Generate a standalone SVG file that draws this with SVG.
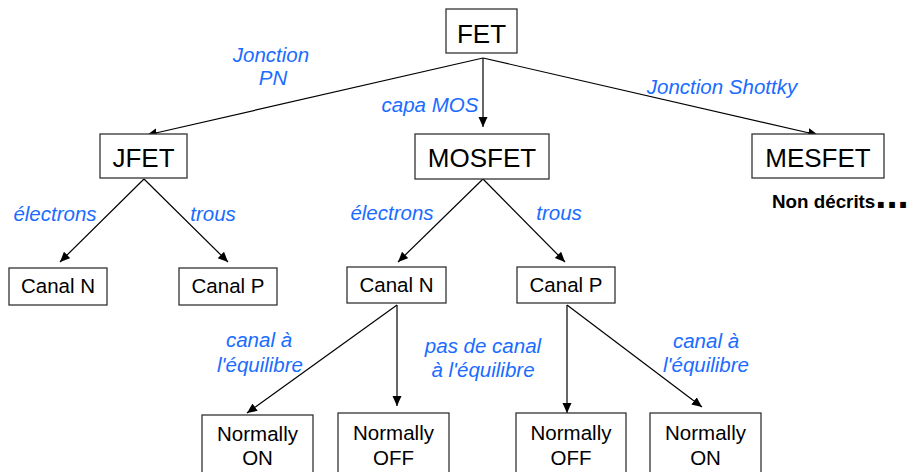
<svg xmlns="http://www.w3.org/2000/svg" width="915" height="472" viewBox="0 0 915 472">
<defs>
<marker id="arr" markerUnits="userSpaceOnUse" markerWidth="11" markerHeight="10" refX="10" refY="4.5" orient="auto">
<path d="M0,0 L10,4.5 L0,9 z" fill="#000"/>
</marker>
<style>
.box{fill:#fff;stroke:#333;stroke-width:1.3}
.t{font-family:"Liberation Sans",Arial,sans-serif;fill:#000;text-anchor:middle}
.big{font-size:26px}
.med{font-size:20.5px}
.lab{font-family:"Liberation Sans",Arial,sans-serif;font-style:italic;font-size:20.5px;fill:#1A6CFF;text-anchor:middle}
.c{stroke:#000;stroke-width:1.2;fill:none;marker-end:url(#arr)}
</style>
</defs>
<rect width="915" height="472" fill="#fff"/>
<g id="connectors">
<line class="c" x1="483" y1="58" x2="147" y2="135"/>
<line class="c" x1="483" y1="58" x2="483" y2="127"/>
<line class="c" x1="483" y1="58" x2="818" y2="135"/>
<line class="c" x1="144" y1="179" x2="60" y2="262"/>
<line class="c" x1="144" y1="179" x2="228" y2="262"/>
<line class="c" x1="483" y1="179" x2="398" y2="262"/>
<line class="c" x1="483" y1="179" x2="565" y2="262"/>
<line class="c" x1="397" y1="305" x2="247" y2="413"/>
<line class="c" x1="397" y1="305" x2="397" y2="406"/>
<line class="c" x1="567" y1="305" x2="567" y2="413"/>
<line class="c" x1="567" y1="305" x2="702" y2="407"/>
</g>
<g id="labels">
<text class="lab" x="271" y="62">Jonction</text>
<text class="lab" x="273" y="85">PN</text>
<text class="lab" x="430" y="112">capa MOS</text>
<text class="lab" x="722" y="94">Jonction Shottky</text>
<text class="lab" x="55" y="221">électrons</text>
<text class="lab" x="213" y="221">trous</text>
<text class="lab" x="392" y="220">électrons</text>
<text class="lab" x="559" y="220">trous</text>
<text class="lab" x="259" y="347">canal à</text>
<text class="lab" x="260" y="372">l'équilibre</text>
<text class="lab" x="483" y="353">pas de canal</text>
<text class="lab" x="483" y="377">à l'équilibre</text>
<text class="lab" x="706" y="348">canal à</text>
<text class="lab" x="706" y="372">l'équilibre</text>
</g>
<g id="fet"><rect class="box" x="446" y="9" width="71" height="44"/><text class="t big" x="481.5" y="43">FET</text></g>
<g id="jfet"><rect class="box" x="100" y="134" width="87" height="44"/><text class="t big" x="143.5" y="167">JFET</text></g>
<g id="mosfet"><rect class="box" x="415" y="134" width="134" height="45"/><text class="t big" x="482" y="167">MOSFET</text></g>
<g id="mesfet"><rect class="box" x="752" y="134" width="132" height="44"/><text class="t big" x="818" y="167">MESFET</text></g>
<g id="nondecrits"><text x="772" y="208" style="font-family:'Liberation Sans',Arial,sans-serif;font-weight:bold;font-size:18.8px;fill:#000">Non décrits<tspan style="font-size:40px">...</tspan></text></g>
<g id="jfet-canal-n"><rect class="box" x="9" y="268" width="98" height="37"/><text class="t med" x="58" y="293">Canal N</text></g>
<g id="jfet-canal-p"><rect class="box" x="179" y="268" width="98" height="37"/><text class="t med" x="228" y="293">Canal P</text></g>
<g id="mos-canal-n"><rect class="box" x="347" y="267" width="99" height="36"/><text class="t med" x="396.5" y="292">Canal N</text></g>
<g id="mos-canal-p"><rect class="box" x="517" y="267" width="98" height="36"/><text class="t med" x="566" y="292">Canal P</text></g>
<g id="n-on"><rect class="box" x="202" y="415" width="111" height="70"/><text class="t med" x="257.5" y="441">Normally</text><text class="t med" x="257.5" y="465">ON</text></g>
<g id="n-off"><rect class="box" x="338" y="413" width="111" height="70"/><text class="t med" x="393.5" y="440">Normally</text><text class="t med" x="393.5" y="465">OFF</text></g>
<g id="p-off"><rect class="box" x="516" y="413" width="110" height="70"/><text class="t med" x="571" y="440">Normally</text><text class="t med" x="571" y="465">OFF</text></g>
<g id="p-on"><rect class="box" x="650" y="413" width="111" height="70"/><text class="t med" x="705.5" y="440">Normally</text><text class="t med" x="705.5" y="465">ON</text></g>
</svg>
